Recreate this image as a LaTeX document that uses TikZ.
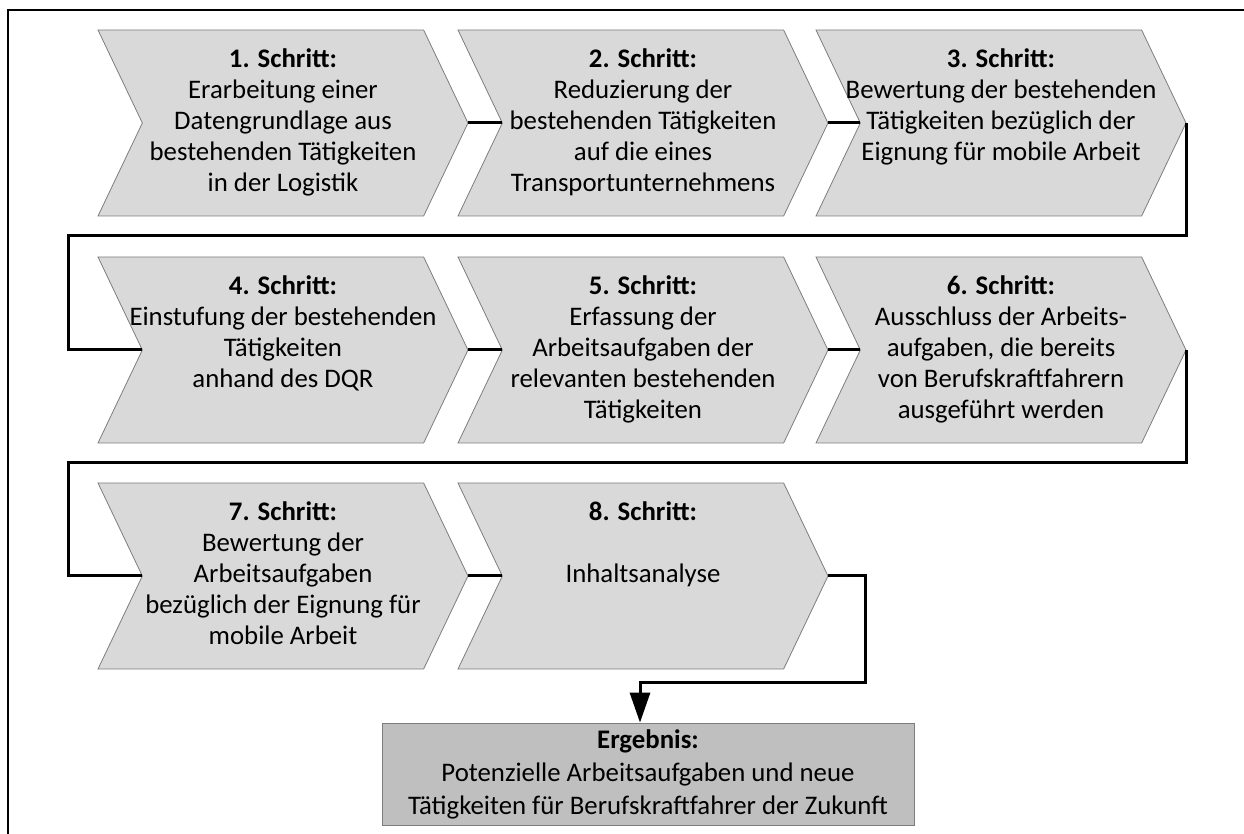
\documentclass[tikz,border=0pt]{standalone}
\usepackage{fontspec}
\setmainfont{Carlito}
\usepackage{xcolor}
\usepackage{tikz}
\usetikzlibrary{shapes.symbols, arrows.meta, positioning, calc}
\definecolor{stepgray}{RGB}{217, 217, 217}
\definecolor{resultgray}{RGB}{191, 191, 191}
\definecolor{edgegray}{RGB}{125, 125, 125}

\newcommand{\steptext}[2]{\parbox[c][74pt][t]{140pt}{\centering\advance\leftskip-14pt\advance\rightskip-14pt\textbf{#1}\\#2}}

\begin{document}
\begin{tikzpicture}[
    x=0.5pt, y=-0.5pt,
    chevron/.style={signal, signal to=east, signal from=west, signal pointer angle=129, draw=edgegray, fill=stepgray, minimum width=185pt, minimum height=93pt, inner sep=0pt, font=\fontsize{13.4}{15.4}\selectfont},
    result/.style={rectangle, draw=edgegray, fill=resultgray, minimum width=266pt, minimum height=51pt, inner sep=0pt, align=center, font=\fontsize{13.4}{16.5}\selectfont},
    conn/.style={line width=1.5pt}
]
    \useasboundingbox (0,0) rectangle (1244,834);
    \draw[line width=1pt] (8,834) -- (8,10) -- (1244,10);

    % first row
    \node[chevron] (c1) at (283,123) {\steptext{1. Schritt:}{Erarbeitung einer\\Datengrundlage aus\\bestehenden Tätigkeiten\\in der Logistik}};
    \node[chevron] (c2) at (643,123) {\steptext{2. Schritt:}{Reduzierung der\\bestehenden Tätigkeiten\\auf die eines\\Transportunternehmens}};
    \node[chevron] (c3) at (1001,123) {\steptext{3. Schritt:}{Bewertung der bestehenden\\Tätigkeiten bezüglich der\\Eignung für mobile Arbeit}};

    % second row
    \node[chevron] (c4) at (283,350) {\steptext{4. Schritt:}{Einstufung der bestehenden\\Tätigkeiten\\anhand des DQR}};
    \node[chevron] (c5) at (643,350) {\steptext{5. Schritt:}{Erfassung der\\Arbeitsaufgaben der\\relevanten bestehenden\\Tätigkeiten}};
    \node[chevron] (c6) at (1001,350) {\steptext{6. Schritt:}{Ausschluss der Arbeits-\\aufgaben, die bereits\\von Berufskraftfahrern\\ausgeführt werden}};

    % third row
    \node[chevron] (c7) at (283,576) {\steptext{7. Schritt:}{Bewertung der\\Arbeitsaufgaben\\bezüglich der Eignung für\\mobile Arbeit}};
    \node[chevron] (c8) at (643,576) {\steptext{8. Schritt:}{\mbox{}\\Inhaltsanalyse}};

    \node[result] (res) at (648,774) {\textbf{Ergebnis:}\\Potenzielle Arbeitsaufgaben und neue\\Tätigkeiten für Berufskraftfahrer der Zukunft};

    \coordinate (turn3) at (68,236);
    \coordinate (turn6) at (68,463);
    \coordinate (turn8) at (865,682);

    % connections
    \draw[conn] (c1.east) -- (c2.west);
    \draw[conn] (c2.east) -- (c3.west);
    \draw[conn] (c3.east) |- (turn3) |- (c4.west);
    \draw[conn] (c4.east) -- (c5.west);
    \draw[conn] (c5.east) -- (c6.west);
    \draw[conn] (c6.east) |- (turn6) |- (c7.west);
    \draw[conn] (c7.east) -- (c8.west);
    \draw[conn, -{Triangle[length=15pt, width=10pt]}] (c8.east) -| (turn8) -| ([xshift=-4pt]res.north);

\end{tikzpicture}
\end{document}
